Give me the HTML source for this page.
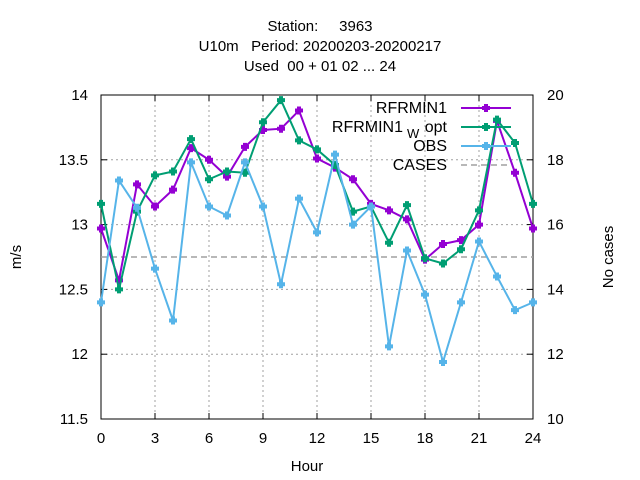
<!DOCTYPE html>
<html><head><meta charset="utf-8"><style>
body{margin:0;background:#fff}
svg{display:block;font-family:"Liberation Sans","DejaVu Sans",sans-serif}
</style></head><body>
<svg id="c" width="640" height="480">
<g font-size="15" text-anchor="middle">
<text x="320" y="31" xml:space="preserve">Station:     3963</text>
<text x="320" y="51" xml:space="preserve">U10m   Period: 20200203-20200217</text>
<text x="320" y="71" xml:space="preserve">Used  00 + 01 02 ... 24</text>
</g>
<g id="grid"></g>
<g id="axes"></g>
<g id="series"></g>
<g id="legend" font-size="16">
<text x="447" y="113" text-anchor="end">RFRMIN1</text>
<text x="403" y="132" text-anchor="end">RFRMIN1</text>
<text x="407" y="138" font-size="13">W</text>
<text x="447" y="132" text-anchor="end">opt</text>
<text x="447" y="151" text-anchor="end">OBS</text>
<text x="447" y="170" text-anchor="end">CASES</text>
</g>
<text x="307" y="471" font-size="15" text-anchor="middle">Hour</text>
<text transform="translate(21,257) rotate(-90)" font-size="15" text-anchor="middle">m/s</text>
<text transform="translate(613,257) rotate(-90)" font-size="15" text-anchor="middle">No cases</text>
</svg>
<script>
const hours=[0,1,2,3,4,5,6,7,8,9,10,11,12,13,14,15,16,17,18,19,20,21,22,23,24];
const rfrmin1=[12.97,12.57,13.31,13.14,13.27,13.59,13.50,13.37,13.60,13.73,13.74,13.88,13.51,13.44,13.35,13.16,13.11,13.04,12.73,12.85,12.88,13.00,13.80,13.40,12.97];
const rfrmin1Wopt=[13.16,12.50,13.10,13.38,13.41,13.66,13.35,13.41,13.40,13.79,13.96,13.65,13.58,13.46,13.10,13.14,12.86,13.15,12.74,12.70,12.81,13.11,13.81,13.63,13.16];
const obs=[12.40,13.34,13.13,12.66,12.26,13.48,13.14,13.07,13.48,13.14,12.54,13.20,12.94,13.54,13.00,13.14,12.06,12.80,12.46,11.94,12.40,12.87,12.60,12.34,12.40];
const cases=[15,15,15,15,15,15,15,15,15,15,15,15,15,15,15,15,15,15,15,15,15,15,15,15,15];
const xTicks=[0,3,6,9,12,15,18,21,24];
const yTicks=[11.5,12,12.5,13,13.5,14];
const y2Ticks=[10,12,14,16,18,20];
const L=101,R=533,T=95,B=419;
const X=h=>L+(h-0)/24*(R-L);
const Y=v=>B-(v-11.5)/2.5*(B-T);
const Y2=v=>B-(v-10)/10*(B-T);
const NS="http://www.w3.org/2000/svg";
function mk(p,t,a){const e=document.createElementNS(NS,t);for(const k in a)e.setAttribute(k,a[k]);p.appendChild(e);return e;}
const grid=document.getElementById('grid'),axes=document.getElementById('axes'),ser=document.getElementById('series'),leg=document.getElementById('legend');
xTicks.forEach(t=>{
 if(t>0&&t<24){const g=mk(grid,'line',{x1:X(t),x2:X(t),y1:T,y2:B,stroke:'#a0a0a0','stroke-dasharray':'2,3'});
 
 }
 mk(axes,'line',{x1:X(t),x2:X(t),y1:B,y2:B-6,stroke:'#000'});
 mk(axes,'line',{x1:X(t),x2:X(t),y1:T,y2:T+6,stroke:'#000'});
 const lb=mk(axes,'text',{x:X(t),y:B+24,'font-size':15,'text-anchor':'middle'});lb.textContent=t;
 
 
});
yTicks.forEach(t=>{
 if(t>11.5&&t<14){const g=mk(grid,'line',{x1:L,x2:R,y1:Y(t),y2:Y(t),stroke:'#a0a0a0','stroke-dasharray':'2,3'});
 
 }
 mk(axes,'line',{x1:L,x2:L+6,y1:Y(t),y2:Y(t),stroke:'#000'});
 const lb=mk(axes,'text',{x:L-13,y:Y(t)+5,'font-size':15,'text-anchor':'end'});lb.textContent=t;
 
 
});
y2Ticks.forEach(t=>{
 mk(axes,'line',{x1:R-6,x2:R,y1:Y2(t),y2:Y2(t),stroke:'#000'});
 const lb=mk(axes,'text',{x:R+14,y:Y2(t)+5,'font-size':15});lb.textContent=t;
 
 
});
mk(axes,'rect',{x:L,y:T,width:R-L,height:B-T,fill:'none',stroke:'#000'});
const cl=mk(ser,'polyline',{points:hours.map((h,i)=>X(h)+','+Y2(cases[i])).join(' '),fill:'none',stroke:'#a0a0a0','stroke-width':1.5,'stroke-dasharray':'6,4'});


function plus(g,x,y,c){mk(g,'path',{d:`M${x-4},${y}h8M${x},${y-4}v8`,stroke:c,'stroke-width':4});}
function series(vals,c,name){
 const g=mk(ser,'g',{});
 
 
 mk(g,'polyline',{points:hours.map((h,i)=>X(h)+','+Y(vals[i])).join(' '),fill:'none',stroke:c,'stroke-width':2});
 hours.forEach((h,i)=>plus(g,X(h),Y(vals[i]),c));
}
series(rfrmin1,'#9400d3','rfrmin1-series');
series(rfrmin1Wopt,'#009e73','rfrmin1-wopt-series');
series(obs,'#56b4e9','obs-series');
const items=[['#9400d3',0],['#009e73',0],['#56b4e9',0],['#a0a0a0',1]];
items.forEach((it,i)=>{
 const y=108+i*19;
 const g=mk(leg,'g',{});
 
 
 if(it[1]==1){mk(g,'line',{x1:461,x2:511,y1:y,y2:y,stroke:it[0],'stroke-width':1.5,'stroke-dasharray':'6,4'});}
 else{mk(g,'line',{x1:461,x2:511,y1:y,y2:y,stroke:it[0],'stroke-width':2});plus(g,486,y,it[0]);}
});
</script>
</body></html>
